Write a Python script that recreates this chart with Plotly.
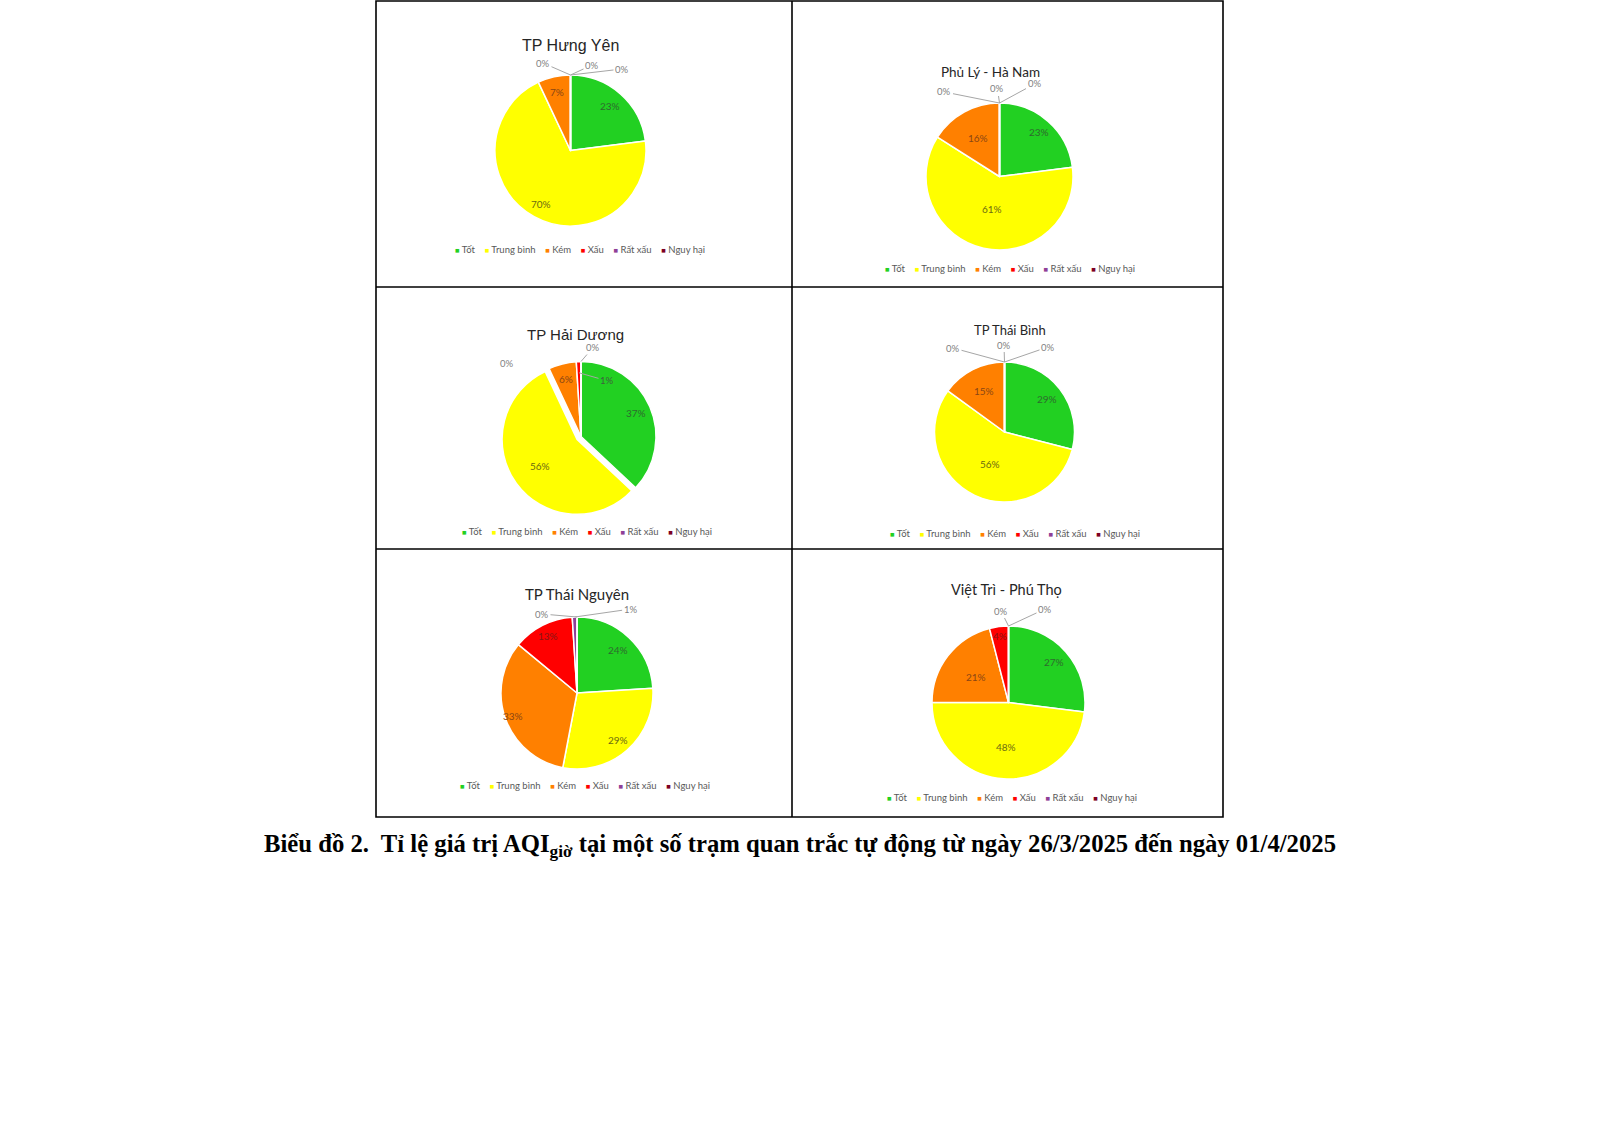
import math
import plotly.graph_objects as go

W, H = 1600, 1132

# ---------------- data ----------------
categories = ["Tốt", "Trung bình", "Kém", "Xấu", "Rất xấu", "Nguy hại"]
stations = ["TP Hưng Yên", "Phủ Lý - Hà Nam", "TP Hải Dương",
            "TP Thái Bình", "TP Thái Nguyên", "Việt Trì - Phú Thọ"]
hung_yen = [23, 70, 7, 0, 0, 0]
phu_ly = [23, 61, 16, 0, 0, 0]
hai_duong = [37, 56, 6, 1, 0, 0]
thai_binh = [29, 56, 15, 0, 0, 0]
thai_nguyen = [24, 29, 33, 13, 1, 0]
viet_tri = [27, 48, 21, 4, 0, 0]
series = [hung_yen, phu_ly, hai_duong, thai_binh, thai_nguyen, viet_tri]
caption = ("Biểu đồ 2.  Tỉ lệ giá trị AQI<sub>giờ</sub> tại một số trạm quan trắc "
           "tự động từ ngày 26/3/2025 đến ngày 01/4/2025")

# ---------------- styles ----------------
slice_colors = ["#22D022", "#FFFF00", "#FF8000", "#FF0000", "#8F3F97", "#7E0023"]
label_colors = ["#2E6B2E", "#6B6B12", "#8A4614", "#8A1414", "#7F7F7F", "#7F7F7F"]
small_color = "#7F7F7F"
inner_small_color = "#3F5F3F"
lead_color = "#A6A6A6"

# per pie: centre/radius in px, title, legend, inside-label radius fractions,
# small-label offsets (px) for leader labels
styles = [
    dict(cx=570.5, cy=150.5, r=75.5, pull=None,
         title=(570, 46, "Liberation Sans", 16), legend=(580, 249),
         k=[0.79, 0.81, 0.79],
         small={3: (1.0, -27.5, -12), 4: (1.0, 21.5, -10), 5: (1.0, 51.5, -6)}),
    dict(cx=999.5, cy=176.5, r=73.5, pull=None,
         title=(990, 72, "Lato", 13.5), legend=(1010, 268),
         k=[0.81, 0.45, 0.6],
         small={3: (1.0, -55, -11), 4: (1.0, -2, -14), 5: (1.0, 35, -19)}),
    dict(cx=581, cy=436.5, r=75, pull=[0, 0.065, 0, 0, 0, 0],
         title=(575, 334, "Liberation Sans", 15), legend=(587, 531),
         k=[0.8, 0.67, 0.79],
         small={3: (0.85, 28, 8), 4: (1.0, -74, 2, False), 5: (1.0, 12, -14)}),
    dict(cx=1004.5, cy=432, r=70, pull=None,
         title=(1010, 330, "Lato", 13), legend=(1015, 533),
         k=[0.76, 0.5, 0.66],
         small={3: (1.0, -51.5, -14), 4: (1.0, -0.5, -17), 5: (1.0, 43.5, -15)}),
    dict(cx=577, cy=693, r=76, pull=None,
         title=(577, 594, "Lato", 15), legend=(585, 785),
         k=[0.78, 0.82, 0.9, 0.84],
         small={4: (1.0, 56, -8), 5: (1.0, -35, -3)}),
    dict(cx=1008.5, cy=702.5, r=76.5, pull=None,
         title=(1006, 589, "Lato", 14.5), legend=(1012, 797),
         k=[0.8, 0.58, 0.54, 0.88],
         small={4: (1.0, -7.5, -15), 5: (1.0, 36.5, -17)}),
]


def px(x):
    return x / W


def py(y):
    return 1 - y / H


fig = go.Figure()
annotations = []

for name, vals, st in zip(stations, series, styles):
    pull = st["pull"]
    maxpull = max(pull) if pull else 0
    half = st["r"] * (1 + maxpull)
    fig.add_trace(go.Pie(
        labels=categories, values=vals, name=name,
        sort=False, direction="clockwise", rotation=0,
        marker=dict(colors=slice_colors, line=dict(color="white", width=1.5)),
        pull=pull if pull else 0,
        textinfo="none", hoverinfo="label+percent",
        showlegend=False,
        domain=dict(x=[px(st["cx"] - half), px(st["cx"] + half)],
                    y=[py(st["cy"] + half), py(st["cy"] - half)]),
    ))

    total = float(sum(vals))
    cum = 0.0
    ki = 0
    for i, v in enumerate(vals):
        mid = 2 * math.pi * (cum + v / 2.0) / total
        cum += v
        if i in st["small"]:
            spec = st["small"][i]
            kk, dx, dy = spec[0], spec[1], spec[2]
            line = spec[3] if len(spec) > 3 else True
            axp = st["cx"] + kk * st["r"] * math.sin(mid)
            ayp = st["cy"] - kk * st["r"] * math.cos(mid)
            col = inner_small_color if kk < 1 else small_color
            if line:
                annotations.append(dict(
                    x=px(axp), y=py(ayp), xref="paper", yref="paper",
                    text=f"{v:.0f}%", showarrow=True, arrowhead=0, arrowwidth=1,
                    arrowcolor=lead_color, ax=dx, ay=dy, standoff=0, startstandoff=0,
                    font=dict(family="Lato", size=9.5, color=col)))
            else:
                annotations.append(dict(
                    x=px(axp + dx), y=py(ayp + dy), xref="paper", yref="paper",
                    text=f"{v:.0f}%", showarrow=False,
                    xanchor="center", yanchor="middle",
                    font=dict(family="Lato", size=9.5, color=col)))
        elif v > 0:
            kk = st["k"][ki] if ki < len(st["k"]) else 0.7
            ki += 1
            lx = st["cx"] + kk * st["r"] * math.sin(mid)
            ly = st["cy"] - kk * st["r"] * math.cos(mid)
            annotations.append(dict(
                x=px(lx), y=py(ly), xref="paper", yref="paper",
                text=f"{v:.0f}%", showarrow=False,
                xanchor="center", yanchor="middle",
                font=dict(family="Lato", size=10, color=label_colors[i])))

    # title
    tx, ty, tf, ts = st["title"]
    annotations.append(dict(
        x=px(tx), y=py(ty), xref="paper", yref="paper", text=name,
        showarrow=False, xanchor="center", yanchor="middle",
        font=dict(family=tf, size=ts, color="#262626")))

    # legend line
    parts = []
    for c, col in zip(categories, slice_colors):
        parts.append(f"<span style='color:{col};font-size:7.5px'>■</span> {c}")
    lx, ly = st["legend"]
    annotations.append(dict(
        x=px(lx), y=py(ly), xref="paper", yref="paper",
        text="&nbsp;&nbsp;&nbsp;&nbsp;".join(parts),
        showarrow=False, xanchor="center", yanchor="middle",
        font=dict(family="Lato", size=9.5, color="#595959")))

# caption
annotations.append(dict(
    x=px(800), y=py(845), xref="paper", yref="paper", text=f"<b>{caption}</b>",
    showarrow=False, xanchor="center", yanchor="middle",
    font=dict(family="Liberation Serif", size=24.7, color="black")))

# grid frame
L, R, T, B = 376, 1223, 1, 817
VX, H1, H2 = 792, 287, 549
lw = 1.6
shapes = [
    dict(type="rect", xref="paper", yref="paper", x0=px(L), x1=px(R), y0=py(B), y1=py(T),
         line=dict(color="black", width=lw)),
    dict(type="line", xref="paper", yref="paper", x0=px(VX), x1=px(VX), y0=py(B), y1=py(T),
         line=dict(color="black", width=lw)),
    dict(type="line", xref="paper", yref="paper", x0=px(L), x1=px(R), y0=py(H1), y1=py(H1),
         line=dict(color="black", width=lw)),
    dict(type="line", xref="paper", yref="paper", x0=px(L), x1=px(R), y0=py(H2), y1=py(H2),
         line=dict(color="black", width=lw)),
]

fig.update_layout(
    width=W, height=H, margin=dict(l=0, r=0, t=0, b=0),
    paper_bgcolor="white", plot_bgcolor="white",
    annotations=annotations, shapes=shapes, showlegend=False,
)

fig.write_html("out.html", config={"displayModeBar": False},
               post_script="document.body.style.margin='0';document.body.style.overflow='hidden';")
